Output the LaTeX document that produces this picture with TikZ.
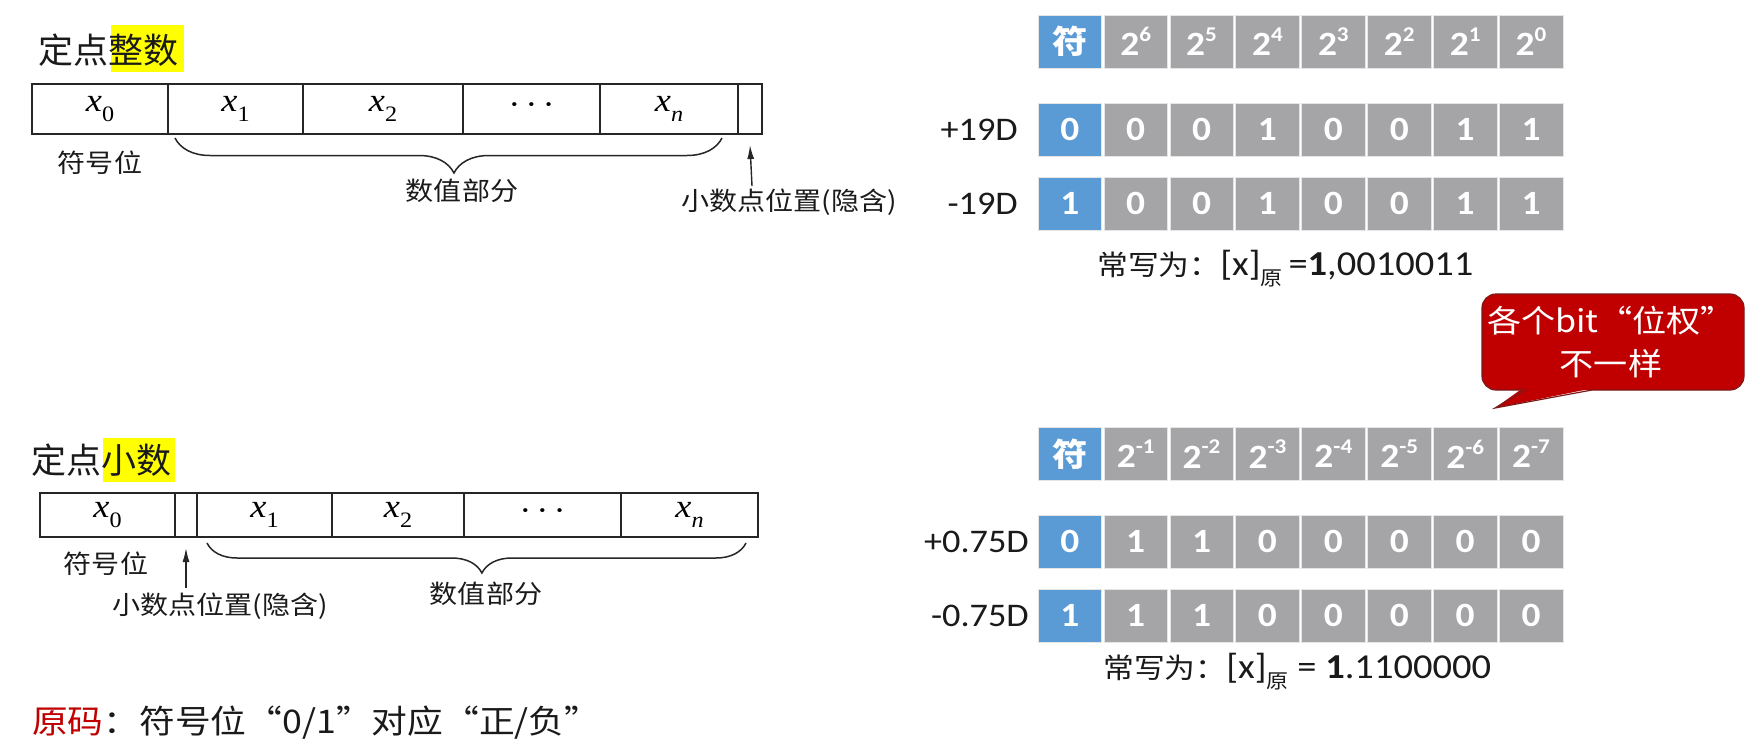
\documentclass[tikz,border=0pt]{standalone}
\usepackage{fontspec}
\setmainfont{Carlito}[FakeStretch=1.1]
\newfontfamily\cjk{Noto Sans CJK SC}[FakeStretch=1.1]
\newfontfamily\cjkt{Noto Sans CJK SC}
\newfontfamily\tnr{Liberation Serif}[FakeStretch=1.1]
\usetikzlibrary{decorations.pathreplacing,arrows.meta}
\definecolor{cblue}{HTML}{5B9BD5}
\definecolor{cgray}{HTML}{A5A5A8}
\definecolor{cred}{HTML}{C00000}
\definecolor{credge}{HTML}{7A1A1A}
\definecolor{hl}{HTML}{FFFF00}
\definecolor{ink}{HTML}{1A1A1A}
\newcommand\pw[1]{2\raisebox{.42em}{\fontsize{21}{21}\selectfont #1}}
\newcommand\xv[1]{{\tnr\itshape x}\raisebox{-.3em}{\tnr\fontsize{22}{22}\selectfont #1}}
\newcommand\tdots{{\tnr\textperiodcentered\hspace{5pt}\textperiodcentered\hspace{5pt}\textperiodcentered}}
\tikzset{
  lcell/.style={draw=black!85, line width=1.3pt, inner sep=0, font=\fontsize{33}{36}\selectfont},
  llab/.style={inner sep=0, font=\cjk\fontsize{25.5}{28}\selectfont, text=ink},
  ttl/.style={inner sep=0, anchor=west, font=\cjkt\fontsize{35}{40}\selectfont, text=ink},
  rcell/.style={minimum width=63.5pt, minimum height=53pt, inner sep=0, text=white,
    draw=white!80!gray, line width=0.6pt, font=\bfseries\fontsize{34}{38}\selectfont},
  rlab/.style={inner sep=0, anchor=east, font=\fontsize{33}{36}\selectfont, text=ink},
  brc/.style={decorate, line width=1.5pt, draw=black!85},
  parr/.style={line width=1.4pt, draw=black!85, -{Latex[length=14pt,width=7pt]}},
}
\begin{document}
\begin{tikzpicture}[x=1pt,y=-1pt]
\useasboundingbox[fill=white] (0,0) rectangle (1748,753);

% ---------- top-left: 定点整数 ----------
\fill[hl] (111,25) rectangle (184,72);
\node[ttl] (t1) at (38,50) {定点整数};
\node[lcell, minimum width=136pt, minimum height=50pt] (a0) at (100,109) {\xv{0}};
\node[lcell, minimum width=135pt, minimum height=50pt] (a1) at (235.5,109) {\xv{1}};
\node[lcell, minimum width=160pt, minimum height=50pt] (a2) at (383,109) {\xv{2}};
\node[lcell, minimum width=137pt, minimum height=50pt] (a3) at (531.5,109) {\tdots};
\node[lcell, minimum width=138pt, minimum height=50pt] (a4) at (669,109) {\xv{\itshape n}};
\node[lcell, minimum width=24pt, minimum height=50pt] (a5) at (750,109) {};
\node[llab] (sa) at (100,163) {符号位};
\draw[brc, decoration={brace, mirror, amplitude=35pt, aspect=0.51}] (175,138) -- (722,138);
\node[llab] (va) at (462,191) {数值部分};
\node[llab] (pa) at (789,202) {小数点位置(隐含)};
\coordinate (pta) at (752,186);
\draw[parr] (pta) -- (a5.south |- 0,145);

% ---------- bottom-left: 定点小数 ----------
\fill[hl] (103,438) rectangle (175,482);
\node[ttl] (t2) at (31,460) {定点小数};
\node[lcell, minimum width=135pt, minimum height=44pt] (b0) at (107.5,515) {\xv{0}};
\node[lcell, minimum width=22pt, minimum height=44pt] (b1) at (186,515) {};
\node[lcell, minimum width=135pt, minimum height=44pt] (b2) at (264.5,515) {\xv{1}};
\node[lcell, minimum width=132pt, minimum height=44pt] (b3) at (398,515) {\xv{2}};
\node[lcell, minimum width=157pt, minimum height=44pt] (b4) at (542.5,515) {\tdots};
\node[lcell, minimum width=137pt, minimum height=44pt] (b5) at (689.5,515) {\xv{\itshape n}};
\node[llab] (sb) at (106,564) {符号位};
\draw[brc, decoration={brace, mirror, amplitude=30pt, aspect=0.51}] (207,543) -- (746,543);
\node[llab] (vb) at (486,594) {数值部分};
\node[llab] (pb) at (220,606) {小数点位置(隐含)};
\coordinate (ptb) at (186,588);
\draw[parr] (ptb) -- (b1.south |- 0,548);

% ---------- bottom rule ----------
\node[inner sep=0, anchor=west, font=\cjk\fontsize{32.5}{36}\selectfont, text=ink] (rule) at (32,723)
  {\textcolor{cred}{原码}：符号位“0/1”对应“正/负”};

% ---------- right: integer table ----------
\node[rcell, fill=cblue, font=\cjk\bfseries\fontsize{32}{36}\selectfont] (ha0) at (1069.75,41.5) {符};
\foreach \e [count=\i] in {6,5,4,3,2,1,0}
  \node[rcell, fill=cgray] (ha\i) at ({1069.75+\i*65.9},41.5) {\pw{\e}};
\foreach \b [count=\i from 0] in {0,0,0,1,0,0,1,1}{
  \ifnum\i=0 \def\fc{cblue}\else\def\fc{cgray}\fi
  \node[rcell, fill=\fc] (rp\i) at ({1069.75+\i*65.9},129.5) {\b};}
\foreach \b [count=\i from 0] in {1,0,0,1,0,0,1,1}{
  \ifnum\i=0 \def\fc{cblue}\else\def\fc{cgray}\fi
  \node[rcell, fill=\fc] (rn\i) at ({1069.75+\i*65.9},203.5) {\b};}
\node[rlab] (lp1) at (1018,129.5) {+19D};
\node[rlab] (ln1) at (1018,203.5) {-19D};
\node[inner sep=0, anchor=base west, text=ink] (w1) at (1097,275)
  {{\cjk\fontsize{28}{30}\selectfont 常写为：}\fontsize{35}{38}\selectfont[x]\raisebox{-.3em}{\cjk\fontsize{20}{20}\selectfont 原}\,=\textbf{1},0010011};

% ---------- callout ----------
\fill[cred, rounded corners=14pt] (1482,294) rectangle (1744,390);
\fill[cred] (1523,388) -- (1495,408) -- (1594,388) -- cycle;
\draw[credge, line width=1.2pt, rounded corners=14pt] (1525,390) -- (1482,390) -- (1482,294) -- (1744,294) -- (1744,390) -- (1592,390);
\draw[credge, line width=1.2pt] (1592,390) -- (1495,408) -- (1525,390);
\node[inner sep=0, align=center, text=white, font=\cjk\fontsize{31}{43}\selectfont] (note) at (1611,342)
  {各个bit“位权”\\不一样};

% ---------- right: fraction table ----------
\node[rcell, fill=cblue, font=\cjk\bfseries\fontsize{32}{36}\selectfont] (hb0) at (1069.75,454) {符};
\foreach \e [count=\i] in {-1,-2,-3,-4,-5,-6,-7}
  \node[rcell, fill=cgray] (hb\i) at ({1069.75+\i*65.9},454) {\pw{\e}};
\foreach \b [count=\i from 0] in {0,1,1,0,0,0,0,0}{
  \ifnum\i=0 \def\fc{cblue}\else\def\fc{cgray}\fi
  \node[rcell, fill=\fc] (sp\i) at ({1069.75+\i*65.9},541.5) {\b};}
\foreach \b [count=\i from 0] in {1,1,1,0,0,0,0,0}{
  \ifnum\i=0 \def\fc{cblue}\else\def\fc{cgray}\fi
  \node[rcell, fill=\fc] (sn\i) at ({1069.75+\i*65.9},615.5) {\b};}
\node[rlab] (lp2) at (1029,541.5) {+0.75D};
\node[rlab] (ln2) at (1029,615.5) {-0.75D};
\node[inner sep=0, anchor=base west, text=ink] (w2) at (1103,678)
  {{\cjk\fontsize{28}{30}\selectfont 常写为：}\fontsize{35}{38}\selectfont[x]\raisebox{-.3em}{\cjk\fontsize{20}{20}\selectfont 原} = \textbf{1}.1100000};
\end{tikzpicture}
\end{document}
